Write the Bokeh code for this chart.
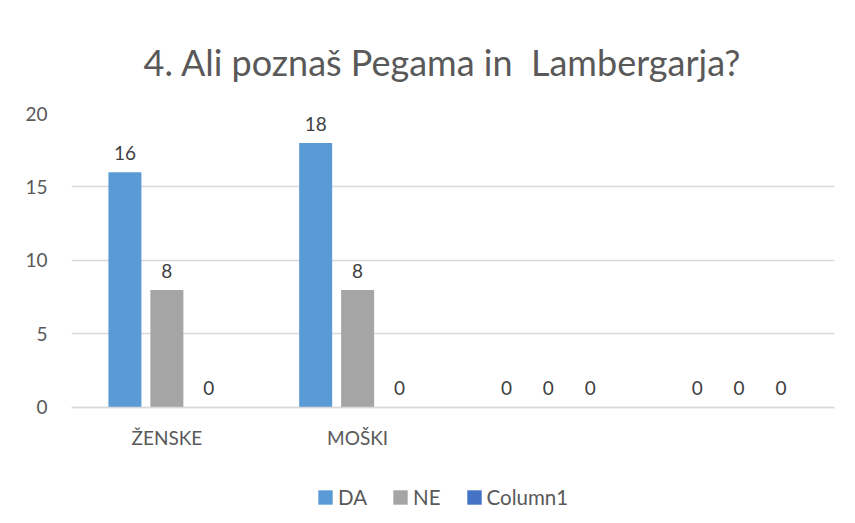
from bokeh.plotting import figure
from bokeh.models import ColumnDataSource, Range1d, FixedTicker, Legend, LegendItem, LabelSet
from bokeh.core.properties import value
from bokeh.transform import dodge
from bokeh.embed import file_html
from bokeh.resources import INLINE

title_text = "4. Ali poznaš Pegama in \u00a0Lambergarja?"
categories = ["ŽENSKE", "MOŠKI", " ", "  "]
series_names = ["DA", "NE", "Column1"]
da_values = [16, 18, 0, 0]
ne_values = [8, 8, 0, 0]
col1_values = [0, 0, 0, 0]
y_ticks = [0, 5, 10, 15, 20]

colors = ["#5B9BD5", "#A5A5A5", "#4472C4"]
offsets = [-0.22, 0.0, 0.22]
FONT = "Lato"
FS = "19px"

src = ColumnDataSource(dict(cat=categories, DA=da_values, NE=ne_values, Column1=col1_values,
                            DA_t=[str(v) for v in da_values], NE_t=[str(v) for v in ne_values],
                            Column1_t=[str(v) for v in col1_values]))

# frame extends below zero to leave room for category labels and legend
p = figure(x_range=categories, y_range=Range1d(-7.35, 20), width=847, height=515,
           output_backend="svg", toolbar_location=None,
           min_border_left=71, min_border_right=13, min_border_top=113, min_border_bottom=0)

p.title.text = title_text
p.title.align = "left"
p.title.offset = 72
p.title.text_font = FONT
p.title.text_font_size = "36px"
p.title.text_font_style = "normal"
p.title.text_color = "#595959"
p.title.standoff = 60

items = []
for name, col, off in zip(series_names, colors, offsets):
    r = p.vbar(x=dodge("cat", off, range=p.x_range), top=name, width=0.173, source=src,
               fill_color=col, line_color=None)
    items.append(LegendItem(label=name, renderers=[r]))
    lbl = LabelSet(x=dodge("cat", off, range=p.x_range), y=name, text=name + "_t", source=src,
                   text_align="center", text_baseline="bottom", y_offset=12,
                   text_font=value(FONT), text_font_size=value(FS), text_color="#404040")
    p.add_layout(lbl)

legend = Legend(items=items, orientation="horizontal", location=(245, 6),
                label_text_font=FONT, label_text_font_size="20.5px", label_text_color="#595959",
                glyph_width=18, glyph_height=18, label_standoff=4, spacing=24,
                border_line_color=None, background_fill_alpha=0, margin=0, padding=6)
p.add_layout(legend, "center")

p.yaxis.ticker = FixedTicker(ticks=y_ticks)
p.yaxis.axis_line_color = None
p.yaxis.major_tick_line_color = None
p.yaxis.minor_tick_line_color = None
p.yaxis.major_label_text_font = FONT
p.yaxis.major_label_text_font_size = FS
p.yaxis.major_label_text_color = "#595959"
p.yaxis.major_label_standoff = 18

p.xaxis.fixed_location = 0
p.xaxis.axis_line_color = "#d9d9d9"
p.xaxis.axis_line_width = 1.5
p.xaxis.major_tick_line_color = None
p.xaxis.minor_tick_line_color = None
p.xaxis.major_label_text_font = FONT
p.xaxis.major_label_text_font_size = FS
p.xaxis.major_label_text_color = "#595959"
p.xaxis.major_label_standoff = 13

p.xgrid.grid_line_color = None
p.ygrid.grid_line_color = "#d9d9d9"
p.ygrid.grid_line_width = 1.5
p.outline_line_color = None
p.x_range.range_padding = 0

open("out.html", "w").write(file_html(p, INLINE))
